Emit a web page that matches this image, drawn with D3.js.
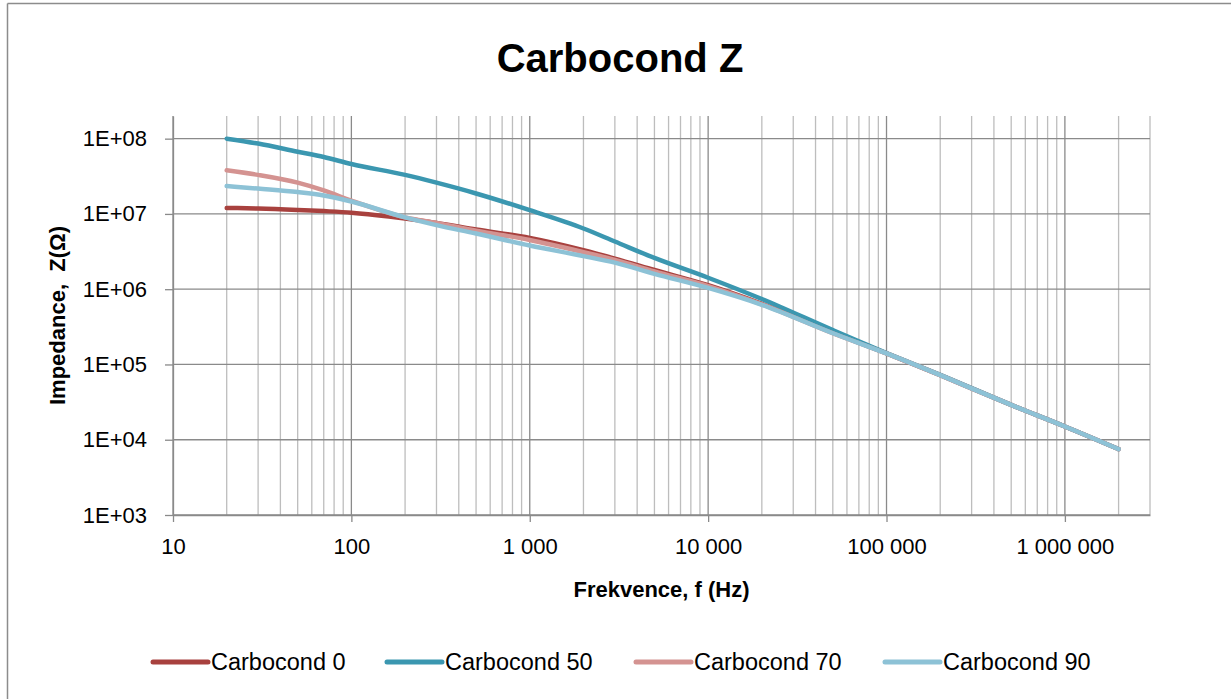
<!DOCTYPE html>
<html>
<head>
<meta charset="utf-8">
<script src="https://cdn.jsdelivr.net/npm/d3@7"></script>
<style>
  body { margin: 0; background: #fff; }
  svg { display: block; font-family: "Liberation Sans", Arial, sans-serif; }
</style>
</head>
<body>
<svg width="1231" height="699"></svg>
<script>
/* data */
var freq = [20, 30, 50, 70, 100, 200, 300, 500, 1000, 2000, 3000, 5000, 10000, 20000, 50000, 100000, 200000, 500000, 1000000, 2000000]

var carbocond0  = [1.2e7, 1.18e7, 1.13e7, 1.09e7, 1.04e7, 8.7e6, 7.6e6, 6.2e6, 4.8e6, 3.3e6, 2.55e6, 1.8e6, 1.13e6, 6.4e5, 2.65e5, 1.4e5, 7.2e4, 2.9e4, 1.5e4, 7.5e3]
var carbocond50 = [1.0e8, 8.6e7, 6.7e7, 5.7e7, 4.6e7, 3.3e7, 2.6e7, 1.87e7, 1.12e7, 6.4e6, 4.3e6, 2.6e6, 1.42e6, 7.4e5, 2.86e5, 1.42e5, 7.3e4, 2.9e4, 1.5e4, 7.5e3]
var carbocond70 = [3.8e7, 3.3e7, 2.6e7, 2.05e7, 1.5e7, 9.0e6, 7.6e6, 6.0e6, 4.5e6, 3.1e6, 2.45e6, 1.72e6, 1.1e6, 6.3e5, 2.6e5, 1.4e5, 7.2e4, 2.9e4, 1.5e4, 7.5e3]
var carbocond90 = [2.35e7, 2.17e7, 1.95e7, 1.76e7, 1.46e7, 9.0e6, 7.1e6, 5.5e6, 3.8e6, 2.75e6, 2.25e6, 1.6e6, 1.04e6, 6.2e5, 2.6e5, 1.4e5, 7.2e4, 2.9e4, 1.5e4, 7.5e3]

var seriesNames = ["Carbocond 0", "Carbocond 50", "Carbocond 70", "Carbocond 90"]
var seriesColors = ["#A8413E", "#3B97B0", "#D49391", "#8DC2D6"]
var seriesValues = [carbocond0, carbocond50, carbocond70, carbocond90]

var yTicks = [1e3, 1e4, 1e5, 1e6, 1e7, 1e8]
var xTicks = [10, 100, 1000, 10000, 100000, 1000000]

/* layout */
var plot_left = 173
var plot_right = 1150
var plot_top = 116
var plot_bottom = 515

var svg = d3.select("svg")

/* chart border (only top and left visible) */
svg.append("line").attr("x1", 7.5).attr("x2", 1231).attr("y1", 3.5).attr("y2", 3.5)
    .attr("stroke", "#8c8c8c").attr("stroke-width", 1.5)
svg.append("line").attr("x1", 7.5).attr("x2", 7.5).attr("y1", 3.5).attr("y2", 699)
    .attr("stroke", "#8c8c8c").attr("stroke-width", 1.5)

var x = d3.scaleLog().domain([10, 3e6]).range([plot_left, plot_right])
var y = d3.scaleLog().domain([1e3, 2e8]).range([plot_bottom, plot_top])

/* minor vertical grid: 2..9 in each decade */
var minor = []
for (var d = 10; d < 3e6; d *= 10) {
    for (var k = 2; k <= 9; k++) {
        if (d * k <= 3e6) minor.push(d * k)
    }
}

svg.append("g").selectAll("line")
    .data(minor)
    .enter()
    .append("line")
    .attr("x1", function(v) { return x(v) })
    .attr("x2", function(v) { return x(v) })
    .attr("y1", plot_top)
    .attr("y2", plot_bottom)
    .attr("stroke", "#bdbdbd")
    .attr("stroke-width", 1.3)

/* major grid */
svg.append("g").selectAll("line")
    .data(xTicks)
    .enter()
    .append("line")
    .attr("x1", function(v) { return x(v) })
    .attr("x2", function(v) { return x(v) })
    .attr("y1", plot_top)
    .attr("y2", plot_bottom)
    .attr("stroke", "#8a8a8a")
    .attr("stroke-width", 1.3)

svg.append("g").selectAll("line")
    .data(yTicks)
    .enter()
    .append("line")
    .attr("x1", plot_left)
    .attr("x2", plot_right)
    .attr("y1", function(v) { return y(v) })
    .attr("y2", function(v) { return y(v) })
    .attr("stroke", "#8a8a8a")
    .attr("stroke-width", 1.3)

/* axes */
var fmtX = function(v) { return d3.format(",")(v).replace(/,/g, " ") }
var fmtY = function(v) { return "1E+" + d3.format("02")(Math.round(Math.log10(v))) }

var xAxis = svg.append("g")
    .attr("transform", "translate(0," + plot_bottom + ")")
    .call(d3.axisBottom(x).tickValues(xTicks).tickFormat(fmtX).tickSizeInner(7).tickSizeOuter(0).tickPadding(16))

var yAxis = svg.append("g")
    .attr("transform", "translate(" + plot_left + ",0)")
    .call(d3.axisLeft(y).tickValues(yTicks).tickFormat(fmtY).tickSizeInner(8).tickSizeOuter(0).tickPadding(18))

xAxis.select(".domain").attr("stroke", "#8a8a8a").attr("stroke-width", 1.3)
yAxis.select(".domain").attr("stroke", "#8a8a8a").attr("stroke-width", 1.3)
xAxis.selectAll(".tick line").attr("stroke", "#8a8a8a").attr("stroke-width", 1.3)
yAxis.selectAll(".tick line").attr("stroke", "#8a8a8a").attr("stroke-width", 1.3)
xAxis.selectAll("text").attr("font-size", 22).attr("fill", "#000")
    .attr("font-family", "Liberation Sans, Arial, sans-serif")
yAxis.selectAll("text").attr("font-size", 22).attr("fill", "#000")
    .attr("font-family", "Liberation Sans, Arial, sans-serif")

/* series */
var line = d3.line()
    .x(function(p) { return x(p[0]) })
    .y(function(p) { return y(p[1]) })
    .curve(d3.curveMonotoneX)

seriesValues.forEach(function(vals, i) {
    var pts = freq.map(function(f, j) { return [f, vals[j]] })
    svg.append("path")
        .attr("d", line(pts))
        .attr("fill", "none")
        .attr("stroke", seriesColors[i])
        .attr("stroke-width", 4.5)
        .attr("stroke-linecap", "round")
        .attr("stroke-linejoin", "round")
})

/* titles */
svg.append("text")
    .text("Carbocond Z")
    .attr("x", 620)
    .attr("y", 72)
    .attr("text-anchor", "middle")
    .attr("font-size", 40)
    .attr("font-weight", "bold")

svg.append("text")
    .text("Frekvence, f (Hz)")
    .attr("x", (plot_left + plot_right) / 2)
    .attr("y", 597)
    .attr("text-anchor", "middle")
    .attr("font-size", 22)
    .attr("font-weight", "bold")

svg.append("text")
    .text("Impedance,  Z(Ω)")
    .attr("transform", "translate(65," + ((plot_top + plot_bottom) / 2) + ") rotate(-90)")
    .attr("text-anchor", "middle")
    .attr("font-size", 22)
    .attr("font-weight", "bold")
    .style("white-space", "pre")

/* legend */
var legendX = [153, 387, 636, 885]
var legend = svg.append("g").selectAll("g")
    .data(seriesNames)
    .enter()
    .append("g")
    .attr("transform", function(n, i) { return "translate(" + legendX[i] + ",662)" })

legend.append("line")
    .attr("x1", 0).attr("x2", 55).attr("y1", 0).attr("y2", 0)
    .attr("stroke", function(n, i) { return seriesColors[i] })
    .attr("stroke-width", 5)
    .attr("stroke-linecap", "round")

legend.append("text")
    .text(function(n) { return n })
    .attr("x", 58)
    .attr("y", 8)
    .attr("font-size", 23.5)
</script>
</body>
</html>
